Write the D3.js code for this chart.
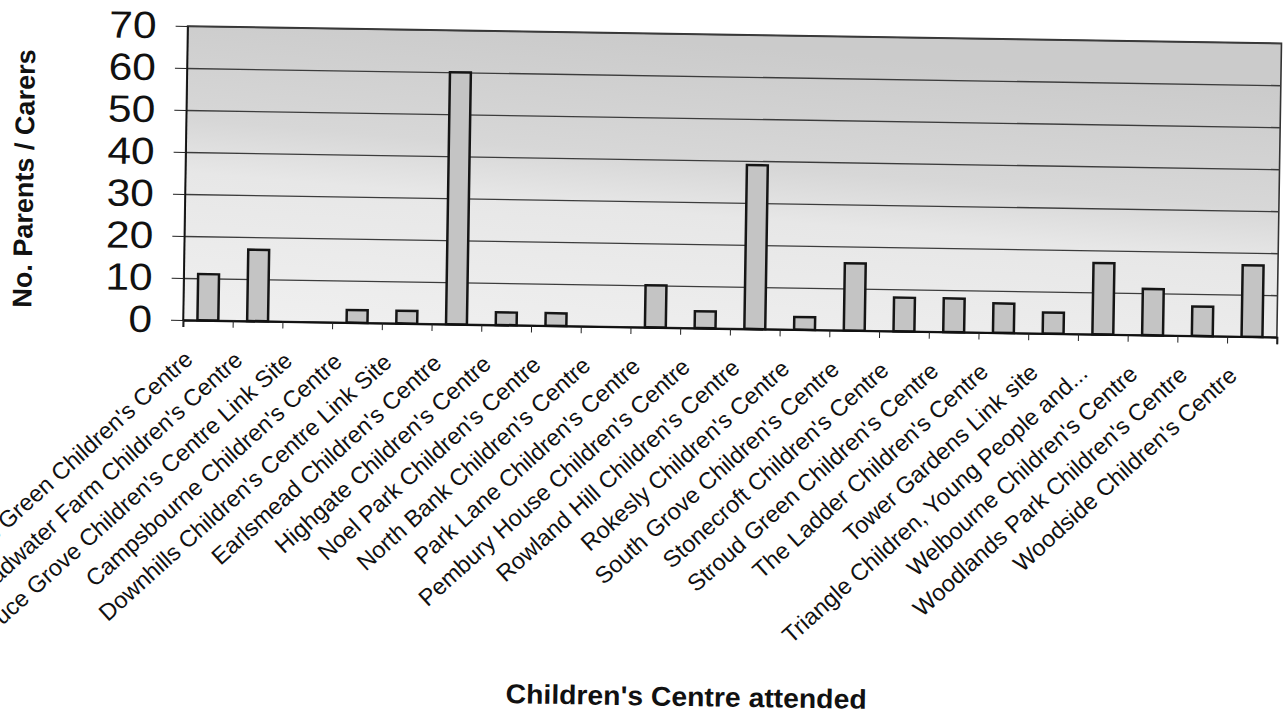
<!DOCTYPE html>
<html>
<head>
<meta charset="utf-8">
<script src="https://cdn.jsdelivr.net/npm/d3@7"></script>
<style>
  body { margin: 0; background: #fff; }
  svg { display: block; font-family: "Liberation Sans", Arial, sans-serif; }
</style>
</head>
<body>
<div id="chart"></div>
<script>
// chart data
const centres = [
  "Bounds Green Children's Centre",
  "Broadwater Farm Children's Centre",
  "Bruce Grove Children's Centre Link Site",
  "Campsbourne Children's Centre",
  "Downhills Children's Centre Link Site",
  "Earlsmead Children's Centre",
  "Highgate Children's Centre",
  "Noel Park Children's Centre",
  "North Bank Children's Centre",
  "Park Lane Children's Centre",
  "Pembury House Children's Centre",
  "Rowland Hill Children's Centre",
  "Rokesly Children's Centre",
  "South Grove Children's Centre",
  "Stonecroft Children's Centre",
  "Stroud Green Children's Centre",
  "The Ladder Children's Centre",
  "Tower Gardens Link site",
  "Triangle Children, Young People and...",
  "Welbourne Children's Centre",
  "Woodlands Park Children's Centre",
  "Woodside Children's Centre"
];
const parents = [11, 17, 0, 3, 3, 60, 3, 3, 0, 10, 4, 39, 3, 16, 8, 8, 7, 5, 17, 11, 7, 17];
const yTicks = [0, 10, 20, 30, 40, 50, 60, 70];

const width = 1284, height = 715,
      margin = ({ top: 26, right: 7, bottom: 395, left: 183 });

let svg = d3.select("#chart")
    .append("svg")
    .attr("width", width)
    .attr("height", height);

let defs = svg.append("defs");
let grad = defs.append("linearGradient") // grey wash of the plot area
    .attr("id", "plotFill")
    .attr("x1", 0.1).attr("y1", 1)
    .attr("x2", 0.35).attr("y2", 0);
grad.append("stop").attr("offset", "0%").attr("stop-color", "#efefef");
grad.append("stop").attr("offset", "45%").attr("stop-color", "#e7e7e7");
grad.append("stop").attr("offset", "62%").attr("stop-color", "#d7d7d7");
grad.append("stop").attr("offset", "100%").attr("stop-color", "#cbcbcb");

// the scanned page is tilted a little clockwise
let g = svg.append("g")
    .attr("transform", `rotate(0.9, ${margin.left}, ${height - margin.bottom})`);

let x = d3.scaleBand()
    .domain(centres)
    .range([margin.left, width - margin.right])
    .paddingInner(0.58)
    .paddingOuter(0.29);

let y = d3.scaleLinear()
    .domain([0, 70])
    .range([height - margin.bottom, margin.top]);

// category boundaries for the tick marks
let xb = d3.scaleLinear()
    .domain([0, centres.length])
    .range([margin.left, width - margin.right]);

const plotW = width - margin.right - margin.left;

g.append("rect") // plot area
    .attr("x", margin.left)
    .attr("y", margin.top)
    .attr("width", plotW)
    .attr("height", y(0) - margin.top)
    .attr("fill", "url(#plotFill)")
    .attr("stroke", "#333")
    .attr("stroke-width", 1.6);

g.append("g") // gridlines
    .attr("transform", `translate(${margin.left},0)`)
    .call(d3.axisLeft(y).tickValues(yTicks).tickSize(-plotW).tickFormat(""))
    .call(a => a.select(".domain").remove())
    .call(a => a.selectAll("line").attr("stroke", "#3c3c3c").attr("stroke-width", 1.4));

g.append("g") // y axis
    .attr("transform", `translate(${margin.left},0)`)
    .call(d3.axisLeft(y).tickValues(yTicks).tickSize(12).tickSizeOuter(0).tickPadding(0))
    .call(a => a.select(".domain").attr("stroke", "#111").attr("stroke-width", 1.5))
    .call(a => a.selectAll("line").attr("stroke", "#222"))
    .call(a => a.selectAll("text")
        .attr("x", null)
        .attr("transform", "translate(-31,0) scale(1.12,1)")
        .attr("font-size", 38)
        .attr("font-family", "Liberation Sans, Arial, sans-serif")
        .attr("fill", "#111"));

g.selectAll(".bar")
    .data(parents)
    .join("rect")
    .attr("class", "bar")
    .attr("x", (d, i) => x(centres[i]))
    .attr("width", x.bandwidth())
    .attr("y", d => y(d))
    .attr("height", d => y(0) - y(d))
    .attr("fill", "#c4c4c4")
    .attr("stroke", "#151515")
    .attr("stroke-width", 2.5)
    .attr("display", d => d > 0 ? null : "none");

g.append("g") // x axis line and ticks
    .attr("transform", `translate(0,${y(0)})`)
    .call(d3.axisBottom(xb).tickValues(d3.range(centres.length + 1)).tickSize(7).tickFormat(""))
    .call(a => a.select(".domain").attr("stroke", "#111").attr("stroke-width", 2))
    .call(a => a.selectAll("line").attr("stroke", "#222"));

g.append("g") // category labels
    .attr("transform", `translate(0,${y(0)})`)
    .call(d3.axisBottom(x).tickSize(0))
    .call(a => a.select(".domain").remove())
    .call(a => a.selectAll("text")
        .attr("y", 0)
        .attr("dy", 0)
        .attr("text-anchor", "end")
        .attr("transform", "translate(-13,41) rotate(-43)")
        .attr("font-size", 23.5)
        .attr("font-family", "Liberation Sans, Arial, sans-serif")
        .attr("fill", "#111"));

g.append("text")
    .attr("transform", "translate(31,181) rotate(-90)")
    .attr("text-anchor", "middle")
    .attr("font-size", 27)
    .attr("font-weight", "bold")
    .attr("fill", "#111")
    .text("No. Parents / Carers");

g.append("text")
    .attr("transform", "translate(692,698) scale(1.05,1)")
    .attr("text-anchor", "middle")
    .attr("font-size", 27)
    .attr("font-weight", "bold")
    .attr("fill", "#111")
    .text("Children's Centre attended");
</script>
</body>
</html>
